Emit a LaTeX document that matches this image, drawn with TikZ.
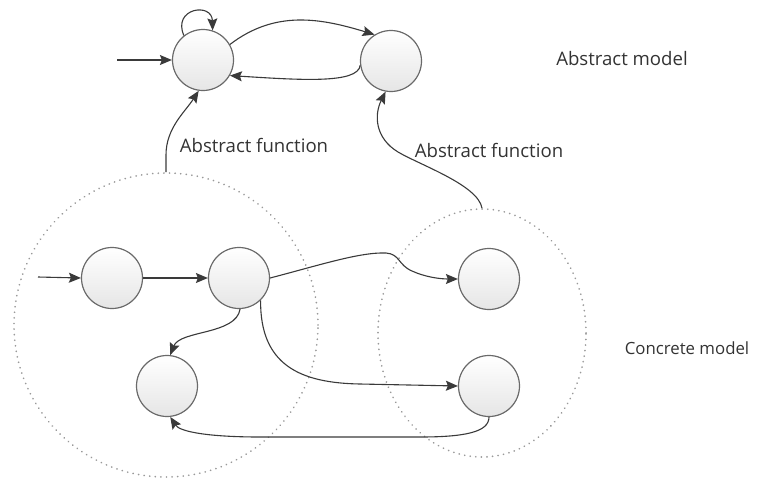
\documentclass[tikz,border=0pt]{standalone}
\usepackage{fontspec}
\setmainfont{Open Sans}
\usetikzlibrary{arrows.meta,shapes.geometric}
\definecolor{edge}{HTML}{3A3A3A}
\definecolor{ring}{HTML}{6A6A6A}
\definecolor{txt}{HTML}{333333}
\tikzset{
  state/.style={circle, minimum size=61pt, inner sep=0pt, draw=ring, line width=1.2pt,
    top color=white, bottom color=black!10},
  conn/.style={draw=edge, line width=1.1pt, -{Stealth[length=12pt,width=10pt,inset=2pt]}},
  group/.style={draw=black!40, line width=1.8pt, dash pattern=on 0.1pt off 5.5pt, line cap=round},
  lbl/.style={font=\fontsize{18.6}{22}\selectfont, text=txt, inner sep=0pt},
  lblsmall/.style={font=\fontsize{16.8}{20}\selectfont, text=txt, inner sep=0pt}
}
\begin{document}
\begin{tikzpicture}[x=1pt,y=-1pt]
\useasboundingbox (0,0) rectangle (766,485);
% dotted groups
\node[group, circle, minimum size=304pt, inner sep=0pt] (LC) at (166,325) {};
\node[group, ellipse, minimum width=208pt, minimum height=248pt, inner sep=0pt] (RC) at (482,333) {};
% abstract states
\node[state] (A1) at (203,60) {};
\node[state] (A2) at (391,61) {};
% concrete states
\node[state] (C1) at (112,278) {};
\node[state] (C2) at (239,278) {};
\node[state] (C3) at (167,386) {};
\node[state] (C4) at (489,279) {};
\node[state] (C5) at (489,386) {};
% labels
\node[lbl] (Lam) at (622,59) {Abstract model};
\node[lblsmall] (Lcm) at (687,348) {Concrete model};
\node[lbl] (Laf1) at (254,145) {Abstract function};
\node[lbl] (Laf2) at (489,150) {Abstract function};
% free ends
\coordinate (inA) at (117,60);
\coordinate (inC) at (38,277);
% abstract edges
\draw[conn] (inA) -- (A1.west);
\draw[conn] (A1.128) .. controls (172,8) and (212,2) .. (A1.72);
\draw[conn] (A1.30) .. controls (275,10) and (320,18) .. (A2.122);
\draw[conn] (A2.188) .. controls (358,84) and (300,80) .. (A1.-30);
% abstraction functions
\draw[conn] (LC.north) -- (166,155) .. controls (166,128) and (185,112) .. (A1.-98);
\draw[conn] (RC.north) .. controls (478,185) and (420,165) .. (398,152) .. controls (375,138) and (374,115) .. (A2.-100);
% concrete edges
\draw[conn] (inC) -- (C1.west);
\draw[conn] (C1) -- (C2);
\draw[conn] (C2.east) .. controls (320,265) and (360,252) .. (386,253) .. controls (400,254) and (398,265) .. (412,271) .. controls (425,277) and (440,279) .. (C4.west);
\draw[conn] (C2.-88) .. controls (236,335) and (180,330) .. (C3.84);
\draw[conn] (C2.-46) .. controls (260,365) and (300,383) .. (360,384) -- (C5.west);
\draw[conn] (C5.-90) .. controls (489,432) and (465,437) .. (420,437) -- (260,437) .. controls (210,437) and (180,432) .. (C3.-84);
\end{tikzpicture}
\end{document}
